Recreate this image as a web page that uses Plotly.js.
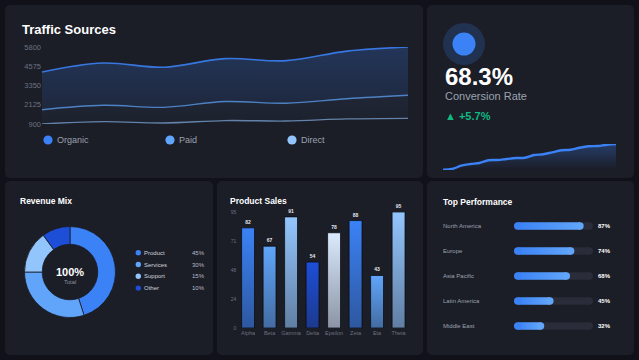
<!DOCTYPE html>
<html>
<head>
<meta charset="utf-8">
<script src="https://cdn.plot.ly/plotly-3.0.1.min.js"></script>
<style>
  html, body { margin: 0; padding: 0; background: #111219; width: 639px; height: 360px; overflow: hidden; }
  .panel { position: absolute; background: #1b1d27; border-radius: 5px; }
  #chart { position: absolute; left: 0; top: 0; width: 639px; height: 360px; }
</style>
</head>
<body>
<div class="panel" style="left:5px;top:5px;width:418px;height:173px"></div>
<div class="panel" style="left:427px;top:5px;width:207px;height:173px"></div>
<div class="panel" style="left:5px;top:181px;width:208px;height:174px"></div>
<div class="panel" style="left:217px;top:181px;width:206px;height:174px"></div>
<div class="panel" style="left:427px;top:181px;width:207px;height:174px"></div>
<div id="chart"></div>
<script>
// ---- data ----
const periods = ['P1', 'P2', 'P3', 'P4', 'P5', 'P6', 'P7'];
const organic = [4210, 4780, 4510, 5060, 4930, 5540, 5800];
const paid = [1810, 2090, 1960, 2330, 2220, 2510, 2730];
const direct = [900, 1045, 965, 1120, 1090, 1220, 1260];
const trafficNames = ['Organic', 'Paid', 'Direct'];
const trafficColors = ['#3b82f6', '#60a5fa', '#93c5fd'];

const conversionRate = '68.3%';
const conversionDelta = '+5.7%';
const conversionTrend = [0.3, 1.0, 4.3, 6.0, 7.0, 9.7, 10.0, 11.0, 12.0, 12.3,
                         15.0, 15.7, 17.7, 19.7, 20.3, 22.3, 23.7, 24.0, 25.3, 26.0];

const revenueLabels = ['Product', 'Services', 'Support', 'Other'];
const revenueShares = [45, 30, 15, 10];
const revenueColors = ['#3b82f6', '#60a5fa', '#93c5fd', '#1d4ed8'];

const products = ['Alpha', 'Beta', 'Gamma', 'Delta', 'Epsilon', 'Zeta', 'Eta', 'Theta'];
const productSales = [82, 67, 91, 54, 78, 88, 43, 95];
const barPalette = ['#3b82f6', '#60a5fa', '#93c5fd', '#1d4ed8', '#dbeafe'];

const regions = ['North America', 'Europe', 'Asia Pacific', 'Latin America', 'Middle East'];
const regionScores = [87, 74, 68, 45, 32];
const scoreMax = 100;

// ---- helpers: pixel -> paper ----
const W = 639, H = 360;
const px = x => x / W;
const py = y => 1 - y / H;
const FONT = 'Liberation Sans, Arial, Helvetica, sans-serif';

function label(text, x, y, size, color, anchor, extra) {
  return Object.assign({
    text: text, xref: 'paper', yref: 'paper', x: px(x), y: py(y),
    xanchor: anchor || 'left', yanchor: 'middle', showarrow: false,
    font: { family: FONT, size: size, color: color }
  }, extra || {});
}
function dot(cx, cy, r, color) {
  return { type: 'circle', xref: 'paper', yref: 'paper', layer: 'above',
    x0: px(cx - r), x1: px(cx + r), y0: py(cy + r), y1: py(cy - r),
    fillcolor: color, line: { width: 0 } };
}

// ---- traces ----
const traces = [];
const tMin = Math.min(...direct), tMax = Math.max(...organic);
const trafficTicks = [0, 1, 2, 3, 4].map(i => tMin + (tMax - tMin) * i / 4);

// Traffic bands: Direct first so each later series fills down to the previous one
traces.push({
  type: 'scatter', x: periods, y: direct, xaxis: 'x', yaxis: 'y', mode: 'lines',
  line: { color: 'rgba(147,197,253,0.6)', width: 1.3, shape: 'spline' },
  cliponaxis: false, hoverinfo: 'skip', showlegend: false
});
traces.push({
  type: 'scatter', x: periods, y: paid, xaxis: 'x', yaxis: 'y', mode: 'lines',
  fill: 'tonexty',
  fillgradient: { type: 'vertical', start: tMin, stop: tMax,
    colorscale: [[0, 'rgba(96,165,250,0.03)'], [1, 'rgba(96,165,250,0.13)']] },
  line: { color: 'rgba(96,165,250,0.72)', width: 1.4, shape: 'spline' },
  cliponaxis: false, hoverinfo: 'skip', showlegend: false
});
traces.push({
  type: 'scatter', x: periods, y: organic, xaxis: 'x', yaxis: 'y', mode: 'lines',
  fill: 'tonexty',
  fillgradient: { type: 'vertical', start: tMin, stop: tMax,
    colorscale: [[0, 'rgba(59,130,246,0.08)'], [1, 'rgba(59,130,246,0.24)']] },
  line: { color: 'rgba(59,130,246,0.88)', width: 1.6, shape: 'spline' },
  cliponaxis: false, hoverinfo: 'skip', showlegend: false
});

// Conversion sparkline
const sparkMax = Math.max(...conversionTrend);
traces.push({
  type: 'scatter', x: conversionTrend.map((_, i) => i), y: conversionTrend,
  xaxis: 'x2', yaxis: 'y2', mode: 'lines', fill: 'tozeroy',
  fillgradient: { type: 'vertical', start: 0, stop: sparkMax,
    colorscale: [[0, 'rgba(59,130,246,0.0)'], [1, 'rgba(59,130,246,0.32)']] },
  line: { color: '#3b82f6', width: 2.4, shape: 'spline' },
  cliponaxis: false, hoverinfo: 'skip', showlegend: false
});

// Revenue donut
traces.push({
  type: 'pie', labels: revenueLabels, values: revenueShares, hole: 0.61,
  sort: false, direction: 'clockwise', rotation: 0,
  marker: { colors: revenueColors, line: { color: '#1b1d27', width: 0.8 } },
  textinfo: 'none', hoverinfo: 'skip', showlegend: false,
  domain: { x: [px(24.5), px(115.5)], y: [py(317.5), py(226.5)] }
});

// Product sales bars
traces.push({
  type: 'bar', x: products, y: productSales, xaxis: 'x3', yaxis: 'y3',
  width: 0.6,
  marker: { color: products.map((_, i) => barPalette[i % barPalette.length]),
            line: { color: 'rgba(10,12,18,0.75)', width: 1 } },
  text: productSales.map(String), textposition: 'outside',
  textfont: { family: FONT, size: 5, color: '#e5e7eb', weight: 'bold' },
  cliponaxis: false, hoverinfo: 'skip', showlegend: false
});

// Top performance: thick pill-shaped tracks and fills (line + round end markers)
const PILL = 7.3;
regions.forEach(name => {
  traces.push({
    type: 'scatter', x: [0, scoreMax], y: [name, name], xaxis: 'x4', yaxis: 'y4',
    mode: 'lines+markers', line: { color: '#2a2d39', width: PILL },
    marker: { size: PILL, color: '#2a2d39', line: { width: 0 } },
    cliponaxis: false, hoverinfo: 'skip', showlegend: false
  });
});
regions.forEach((name, i) => {
  traces.push({
    type: 'scatter', x: [0, regionScores[i]], y: [name, name], xaxis: 'x4', yaxis: 'y4',
    mode: 'lines+markers', line: { color: '#4a93f8', width: PILL },
    marker: { size: PILL, color: ['#3b82f6', '#60a5fa'], line: { width: 0 } },
    cliponaxis: false, hoverinfo: 'skip', showlegend: false
  });
});

// ---- text & decorations ----
const annotations = [];
const shapes = [];

annotations.push(label('<b>Traffic Sources</b>', 20, 29, 13, '#ffffff'));
trafficNames.forEach((name, i) => {
  const cx = 48 + i * 122;
  shapes.push(dot(cx, 140, 4.6, trafficColors[i]));
  annotations.push(label(name, cx + 7, 140, 9, '#9ca3af'));
});

shapes.push(dot(464, 44, 21, 'rgba(59,130,246,0.2)'));
shapes.push(dot(464, 44, 11.5, '#3b82f6'));
annotations.push(label('<b>' + conversionRate + '</b>', 443, 76.5, 24, '#ffffff'));
annotations.push(label('Conversion Rate', 443, 96, 11, '#9ca3af'));
annotations.push(label('<b>▲ ' + conversionDelta + '</b>', 443, 116, 11, '#10b981'));

annotations.push(label('<b>Revenue Mix</b>', 18, 200.5, 8.5, '#ffffff'));
annotations.push(label('<b>100%</b>', 69.5, 271.5, 11, '#ffffff', 'center'));
annotations.push(label('Total', 69.5, 282, 5.8, '#8b909c', 'center'));
revenueLabels.forEach((name, i) => {
  const cy = 252.7 + i * 11.8;
  shapes.push(dot(138.3, cy, 2.7, revenueColors[i]));
  annotations.push(label(name, 142, cy, 6, '#d1d5db'));
  annotations.push(label(revenueShares[i] + '%', 207, cy, 6, '#b8bcc6', 'right'));
});

annotations.push(label('<b>Product Sales</b>', 228, 200.5, 8.5, '#ffffff'));

annotations.push(label('<b>Top Performance</b>', 441, 202.3, 8.5, '#ffffff'));
regions.forEach((name, i) => {
  const cy = 226 + i * 25;
  annotations.push(label(name, 441, cy, 6, '#9ca3af'));
  annotations.push(label('<b>' + regionScores[i] + '%</b>', 596, cy, 6, '#ffffff'));
});

const salesMax = Math.max(...productSales);
const salesTicks = [0, 1, 2, 3, 4].map(i => salesMax * i / 4);

const hidden = { visible: false, showgrid: false, zeroline: false, fixedrange: true };

const layout = {
  width: W, height: H,
  margin: { l: 0, r: 0, t: 0, b: 0, pad: 0 },
  paper_bgcolor: 'rgba(0,0,0,0)', plot_bgcolor: 'rgba(0,0,0,0)',
  font: { family: FONT, color: '#9ca3af' },
  showlegend: false, barmode: 'overlay', hovermode: false,
  xaxis: Object.assign({}, hidden, { domain: [px(42), px(408)], type: 'category',
    range: [0, periods.length - 1], anchor: 'y' }),
  yaxis: { domain: [py(124), py(47)], range: [tMin, tMax], anchor: 'x',
    tickvals: trafficTicks, ticktext: trafficTicks.map(v => String(Math.round(v))),
    showgrid: false, zeroline: false, showline: false, ticks: '',
    tickfont: { family: FONT, size: 7.5, color: '#6b7280' } },
  xaxis2: Object.assign({}, hidden, { domain: [px(443), px(616)],
    range: [0, conversionTrend.length - 1], anchor: 'y2' }),
  yaxis2: Object.assign({}, hidden, { domain: [py(170), py(144)],
    range: [0, sparkMax], anchor: 'x2' }),
  xaxis3: { domain: [px(237.3), px(409.3)], type: 'category', anchor: 'y3',
    showgrid: false, zeroline: false, showline: false, ticks: '',
    tickfont: { family: FONT, size: 5.5, color: '#6b7280' } },
  yaxis3: { domain: [py(328), py(212)], range: [0, salesMax], anchor: 'x3',
    tickvals: salesTicks, ticktext: salesTicks.map(v => String(Math.round(v))),
    showgrid: false, zeroline: false, showline: false, ticks: '',
    tickfont: { family: FONT, size: 5, color: '#6b7280' } },
  xaxis4: Object.assign({}, hidden, { domain: [px(514 + PILL / 2), px(593 - PILL / 2)],
    range: [0, scoreMax], anchor: 'y4' }),
  yaxis4: Object.assign({}, hidden, { domain: [py(338.5), py(213.5)], type: 'category',
    categoryorder: 'array', categoryarray: regions,
    range: [regions.length - 0.5, -0.5], anchor: 'x4' }),
  annotations: annotations,
  shapes: shapes
};

Plotly.newPlot('chart', traces, layout, { staticPlot: true, displayModeBar: false }).then(gd => {
  // gradient fills for the bar marks
  const NS = 'http://www.w3.org/2000/svg';
  const svg = gd.querySelector('.main-svg');
  const defs = document.createElementNS(NS, 'defs');
  svg.insertBefore(defs, svg.firstChild);
  function gradient(id, attrs, stops) {
    const g = document.createElementNS(NS, 'linearGradient');
    g.setAttribute('id', id);
    Object.keys(attrs).forEach(k => g.setAttribute(k, attrs[k]));
    stops.forEach(s => {
      const st = document.createElementNS(NS, 'stop');
      st.setAttribute('offset', s[0]);
      st.setAttribute('stop-color', s[1]);
      st.setAttribute('stop-opacity', s[2]);
      g.appendChild(st);
    });
    defs.appendChild(g);
    return 'url(#' + id + ')';
  }

  const salesPaths = gd.querySelectorAll('.subplot.x3y3 .barlayer .trace .point path');
  salesPaths.forEach((p, i) => {
    const c = barPalette[i % barPalette.length];
    p.style.fill = gradient('sales' + i, { x1: 0, y1: 0, x2: 0, y2: 1 },
      [[0, c, 1], [1, c, 0.58]]);
    p.style.fillOpacity = 1;
  });

  const xa = gd._fullLayout.xaxis4;
  const perfTraces = gd.querySelectorAll('.subplot.x4y4 .scatterlayer .trace');
  regionScores.forEach((v, i) => {
    const tr = perfTraces[regions.length + i];
    if (!tr) return;
    const line = tr.querySelector('path.js-line');
    if (!line) return;
    line.style.stroke = gradient('perf' + i,
      { gradientUnits: 'userSpaceOnUse', x1: xa.l2p(0), y1: 0, x2: xa.l2p(v), y2: 0 },
      [[0, '#3b82f6', 1], [1, '#60a5fa', 1]]);
    line.style.strokeOpacity = 1;
  });
});
</script>
</body>
</html>
